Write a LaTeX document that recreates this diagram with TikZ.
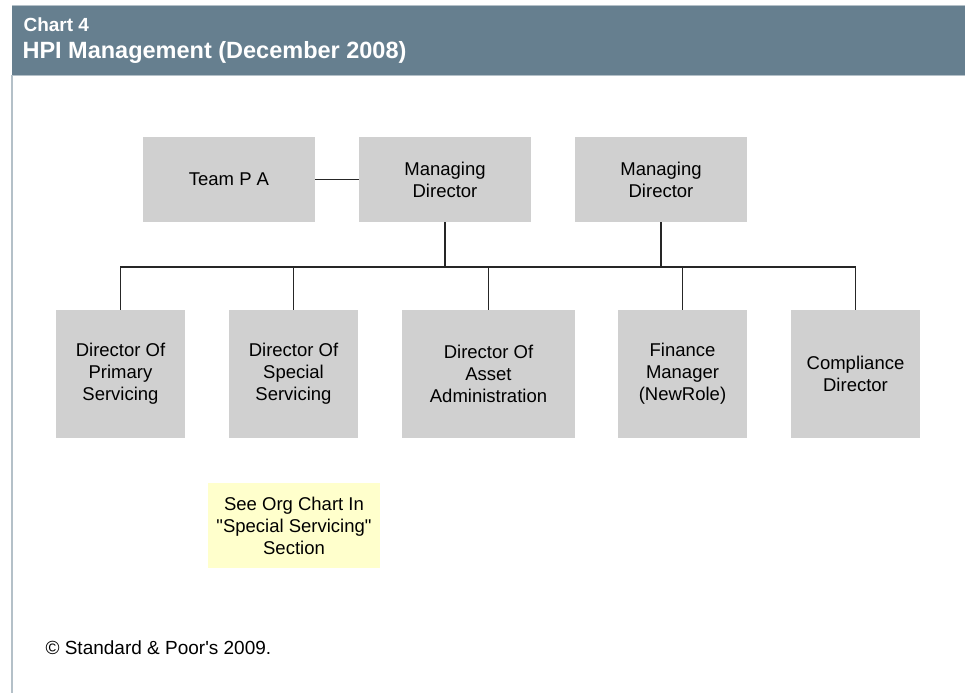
\documentclass[tikz,border=0pt]{standalone}
\usepackage{fontspec}
\setmainfont{Liberation Sans}
\usetikzlibrary{positioning}

\definecolor{bandblue}{HTML}{667F8F}
\definecolor{bandedge}{HTML}{B4C0C8}
\definecolor{boxgrey}{HTML}{D0D0D0}
\definecolor{noteyellow}{HTML}{FFFFCC}

\tikzset{
  post/.style={fill=boxgrey, inner sep=0pt, align=center,
    font=\fontsize{18.5}{22}\selectfont},
  toppost/.style={post, minimum width=172pt, minimum height=85pt},
  lowpost/.style={post, minimum width=129pt, minimum height=128pt},
  link/.style={line width=1.6pt, draw=black!85}
}

\begin{document}
\begin{tikzpicture}[x=1pt, y=-1pt]
\useasboundingbox (0,0) rectangle (965,693);

% Title band and frame
\fill[white] (0,0) rectangle (965,693);
\draw[bandedge, line width=1.5pt] (12,75) -- (12,693);
\fill[bandblue] (12,6) rectangle (965,75);
\draw[bandedge, line width=1pt] (12,6) -- (965,6);
\draw[bandedge, line width=1pt] (12,75.5) -- (965,75.5);
\node[anchor=west, text=white, font=\bfseries\fontsize{19}{19}\selectfont] (chart) at (20,25) {Chart 4};
\node[anchor=west, text=white, font=\bfseries\fontsize{23.5}{23.5}\selectfont] (title) at (19,52) {HPI Management (December 2008)};

% Top row
\node[toppost] (pa) at (229,179.5) {Team P A};
\node[toppost] (md1) at (445,179.5) {Managing\\Director};
\node[toppost] (md2) at (661,179.5) {Managing\\Director};

% Director row
\node[lowpost] (dps) at (120.5,374) {Director Of\\Primary\\Servicing};
\node[lowpost] (dss) at (293.5,374) {Director Of\\Special\\Servicing};
\node[lowpost, minimum width=173pt] (daa) at (488.5,374) {Director Of\\Asset\\Administration};
\node[lowpost] (fm) at (682.5,374) {Finance\\Manager\\(NewRole)};
\node[lowpost] (cd) at (855.5,374) {Compliance\\Director};

% Note under special servicing
\node[post, fill=noteyellow, minimum width=172pt, minimum height=85pt] (note) at (294,525.5)
  {See Org Chart In\\\textquotedbl Special Servicing\textquotedbl\\Section};

% Connectors
\coordinate (bus) at (0,267);
\draw[link] (pa) -- (md1);
\draw[link] (dps.north) |- (bus -| cd) -- (cd.north);
\foreach \n in {dss,daa,fm} {
  \draw[link] (\n.north) -- (\n.north |- bus);
}
\foreach \n in {md1,md2} {
  \draw[link] (\n.south) -- (\n.south |- bus);
}

% Source line
\node[anchor=west, font=\fontsize{19}{19}\selectfont] (src) at (42,648) {© Standard \& Poor\textquotesingle s 2009.};

\end{tikzpicture}
\end{document}
